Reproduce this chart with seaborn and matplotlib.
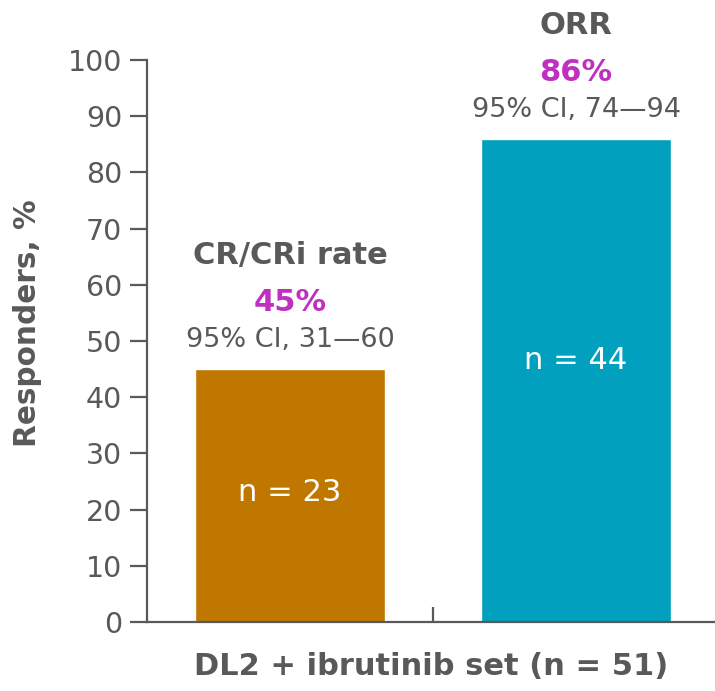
import matplotlib
matplotlib.use("Agg")
import matplotlib.pyplot as plt
import seaborn as sns
import pandas as pd

categories = ["CR/CRi rate", "ORR"]
values = [45, 86]
pct_labels = ["45%", "86%"]
ci_labels = ["95% CI, 31\u201460", "95% CI, 74\u201494"]
n_labels = ["n = 23", "n = 44"]
colors = ["#C07700", "#00A0BE"]
yticks = [0, 10, 20, 30, 40, 50, 60, 70, 80, 90, 100]
xlabel = "DL2 + ibrutinib set (n = 51)"
ylabel = "Responders, %"

sns.set_style("white")
plt.rcParams['font.family'] = ['DejaVu Sans']

gray = "#595959"
magenta = "#C030C0"

df = pd.DataFrame({"cat": categories, "val": values})

fig = plt.figure(figsize=(7.15, 6.91), dpi=100)
ax = fig.add_axes([147/715, 1-622/691, 1-147/715, (622-60)/691])

sns.barplot(data=df, x="cat", y="val", hue="cat", palette=colors,
            width=0.664, saturation=1, legend=False, ax=ax)

ax.set_ylim(0, 100)
ax.set_xlim(-0.5, 1.486)
ax.set_yticks(yticks)
ax.set_yticklabels([str(t) for t in yticks], fontsize=20.5, color=gray)
ax.set_xticks([0.5])
ax.set_xticklabels([""])
ax.tick_params(axis="x", bottom=True, direction="in", length=11, width=1.6, color=gray)
ax.tick_params(axis="y", left=True, direction="out", length=12, width=1.6, color=gray, pad=6)

for s in ["top", "right"]:
    ax.spines[s].set_visible(False)
for s in ["left", "bottom"]:
    ax.spines[s].set_color(gray)
    ax.spines[s].set_linewidth(1.6)

ax.set_ylabel(ylabel, fontsize=21.3, fontweight="bold", color=gray)
ax.yaxis.set_label_coords(-0.185, 0.532)
ax.set_xlabel(xlabel, fontsize=22, fontweight="bold", color=gray, labelpad=18)

title_y = [65.3, 106.2]
pct_y = [56.9, 97.7]
ci_y = [50.2, 91.1]
n_y = [23.1, 46.6]
for i, cat in enumerate(categories):
    ax.text(i, title_y[i], cat, ha="center", va="center", fontsize=22,
            fontweight="bold", color=gray, clip_on=False)
    ax.text(i, pct_y[i], pct_labels[i], ha="center", va="center", fontsize=22,
            fontweight="bold", color=magenta, clip_on=False)
    ax.text(i, ci_y[i], ci_labels[i], ha="center", va="center", fontsize=19.5,
            color=gray, clip_on=False)
    ax.text(i, n_y[i], n_labels[i], ha="center", va="center", fontsize=22,
            color="white", clip_on=False)

fig.savefig("out.png", dpi=100)
